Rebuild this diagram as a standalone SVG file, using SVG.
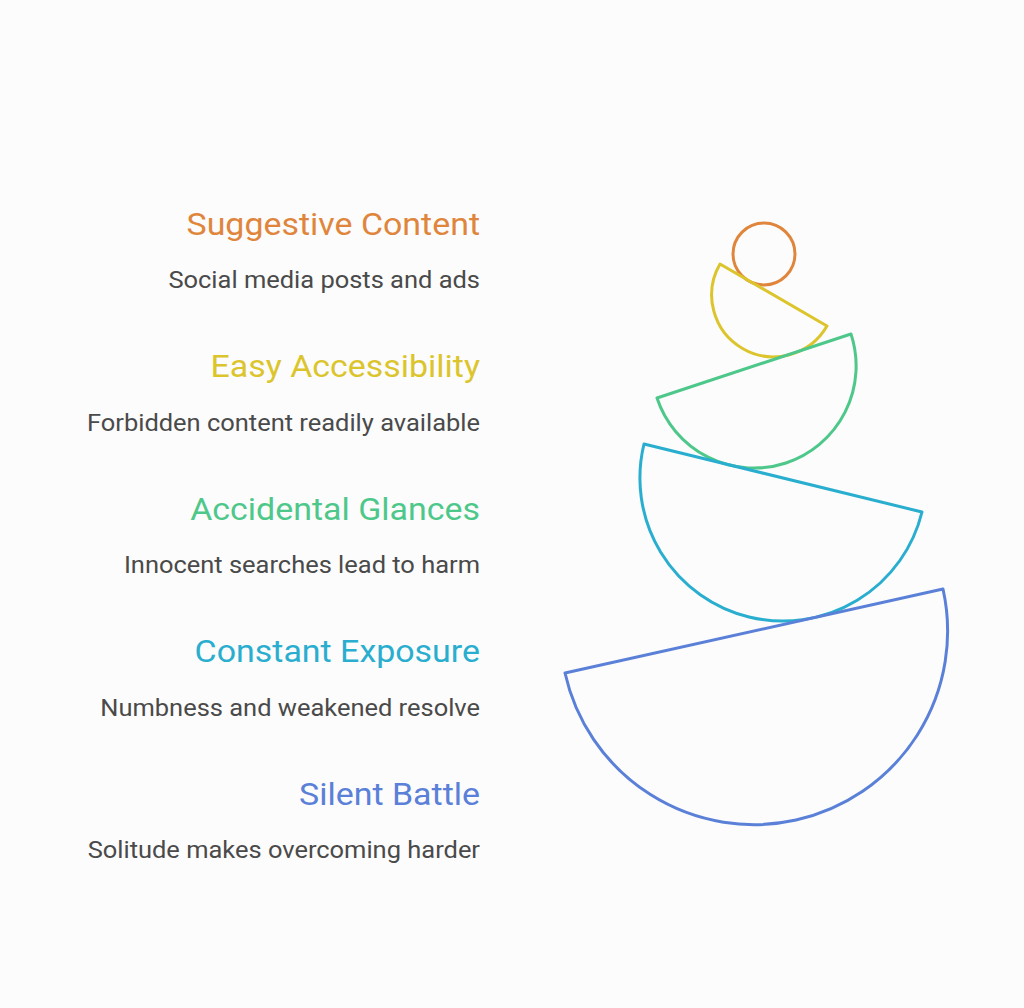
<svg xmlns="http://www.w3.org/2000/svg" width="1024" height="1008" viewBox="0 0 1024 1008">
<style>
.t{font-family:Roboto,"Liberation Sans",sans-serif;font-size:30.5px;text-anchor:end}
.s{font-family:Roboto,"Liberation Sans",sans-serif;font-size:23px;text-anchor:end;fill:#4A4A4A}
.sh{fill:none;stroke-width:3;stroke-linejoin:round}
</style>
<rect width="1024" height="1008" fill="#FCFCFC"/>
<g id="node-suggestive">
<circle class="sh" cx="764" cy="254" r="31" stroke="#E0863C"/>
<text class="t" transform="translate(480 234.5) scale(1.113 1)" fill="#E0863C">Suggestive Content</text>
<text class="s" transform="translate(480 288) scale(1.107 1)">Social media posts and ads</text>
</g>
<g id="node-accessibility">
<path class="sh" d="M720 264 A50 50 0 0 0 827 326 Z" stroke="#DCC52C"/>
<text class="t" transform="translate(480 377) scale(1.113 1)" fill="#DCC52C">Easy Accessibility</text>
<text class="s" transform="translate(480 430.5) scale(1.107 1)">Forbidden content readily available</text>
</g>
<g id="node-glances">
<path class="sh" d="M657 398 A90 90 0 0 0 851 334 Z" stroke="#4EC88A"/>
<text class="t" transform="translate(480 519.5) scale(1.113 1)" fill="#4EC88A">Accidental Glances</text>
<text class="s" transform="translate(480 573) scale(1.107 1)">Innocent searches lead to harm</text>
</g>
<g id="node-exposure">
<path class="sh" d="M644 444 A130 130 0 0 0 922 512 Z" stroke="#2AAECF"/>
<text class="t" transform="translate(480 662) scale(1.113 1)" fill="#2AAECF">Constant Exposure</text>
<text class="s" transform="translate(480 715.5) scale(1.107 1)">Numbness and weakened resolve</text>
</g>
<g id="node-battle">
<path class="sh" d="M565 673 A180 180 0 0 0 943 589 Z" stroke="#5A80D8"/>
<text class="t" transform="translate(480 804.5) scale(1.113 1)" fill="#5A80D8">Silent Battle</text>
<text class="s" transform="translate(480 858) scale(1.107 1)">Solitude makes overcoming harder</text>
</g>
<g id="connectors"/>
</svg>
